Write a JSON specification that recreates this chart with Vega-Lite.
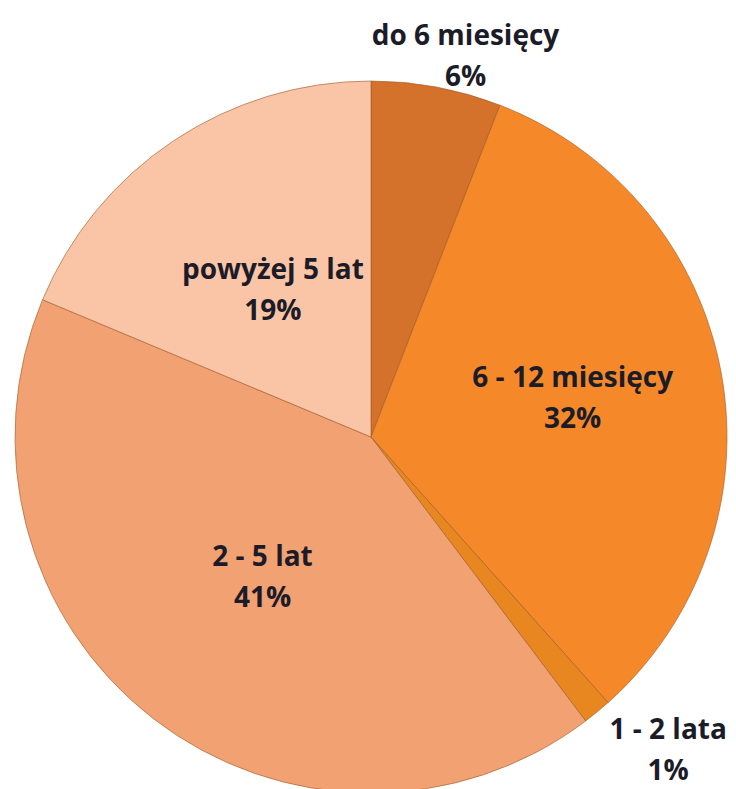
{
  "$schema": "https://vega.github.io/schema/vega-lite/v6.json",
  "width": 742,
  "height": 874,
  "autosize": "none",
  "padding": 0,
  "background": "white",
  "config": {"view": {"stroke": null}, "text": {"font": "Open Sans", "fontWeight": "bold", "fontSize": 28, "color": "#1c1c28", "lineHeight": 41, "baseline": "middle", "align": "center"}},
  "data": {
    "values": [
      {"k": 1, "cat": "do 6 miesięcy", "pct": "6%", "value": 5.9},
      {"k": 2, "cat": "6 - 12 miesięcy", "pct": "32%", "value": 32.5},
      {"k": 3, "cat": "1 - 2 lata", "pct": "1%", "value": 1.3},
      {"k": 4, "cat": "2 - 5 lat", "pct": "41%", "value": 41.6},
      {"k": 5, "cat": "powyżej 5 lat", "pct": "19%", "value": 18.7}
    ]
  },
  "transform": [
    {"stack": "value", "groupby": [], "sort": [{"field": "k"}], "as": ["v0", "v1"]},
    {"calculate": "(datum.v0 + datum.v1) / 2", "as": "mid"},
    {"calculate": "[datum.cat, datum.pct]", "as": "label"}
  ],
  "layer": [
    {
      "mark": {"type": "arc", "outerRadius": 356, "stroke": "#9c5a2a", "strokeWidth": 1, "strokeOpacity": 0.6},
      "encoding": {
        "theta": {"field": "v0", "type": "quantitative", "scale": {"domain": [0, 100]}},
        "theta2": {"field": "v1"},
        "color": {
          "field": "cat",
          "type": "nominal",
          "scale": {
            "domain": ["do 6 miesięcy", "6 - 12 miesięcy", "1 - 2 lata", "2 - 5 lat", "powyżej 5 lat"],
            "range": ["#D4712A", "#F5892A", "#E8861F", "#F2A272", "#FAC4A6"]
          },
          "legend": null
        }
      }
    },
    {
      "transform": [{"filter": "datum.k === 4 || datum.k === 5"}],
      "mark": {"type": "text", "radius": 177, "dy": -19},
      "encoding": {
        "theta": {"field": "mid", "type": "quantitative", "scale": {"domain": [0, 100]}},
        "text": {"field": "label"}
      }
    },
    {
      "transform": [{"filter": "datum.k === 2"}],
      "mark": {"type": "text", "radius": 205, "dy": -21},
      "encoding": {
        "theta": {"field": "mid", "type": "quantitative", "scale": {"domain": [0, 100]}},
        "text": {"field": "label"}
      }
    },
    {
      "transform": [{"filter": "datum.k === 1"}],
      "mark": {"type": "text", "radius": 388, "dx": 23, "dy": -19},
      "encoding": {
        "theta": {"field": "mid", "type": "quantitative", "scale": {"domain": [0, 100]}},
        "text": {"field": "label"}
      }
    },
    {
      "transform": [{"filter": "datum.k === 3"}],
      "mark": {"type": "text", "radius": 405, "dx": 40, "dy": -19},
      "encoding": {
        "theta": {"field": "mid", "type": "quantitative", "scale": {"domain": [0, 100]}},
        "text": {"field": "label"}
      }
    }
  ]
}
